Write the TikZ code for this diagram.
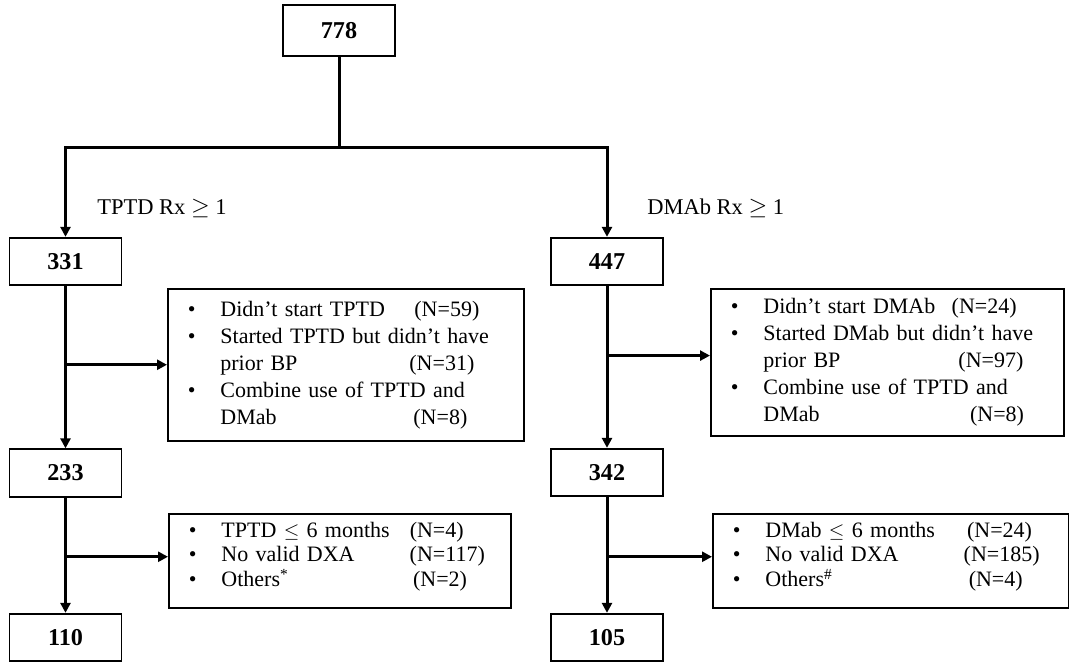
\documentclass[tikz,border=0pt]{standalone}
\usepackage{fontspec}
\setmainfont{Liberation Serif}
\usetikzlibrary{arrows.meta,positioning,calc}

\newcommand{\itm}{\makebox[19.5pt][l]{\textbullet}}
\newcommand{\cont}{\hspace*{19.5pt}}

\begin{document}
\begin{tikzpicture}[x=0.6pt, y=-0.6pt, >={Triangle[length=6pt,width=6pt]},
    numbox/.style={draw, line width=1.1pt, minimum width=67.2pt, minimum height=28.5pt,
        inner sep=0pt, font=\fontsize{14.5}{16}\selectfont\bfseries},
    exclbox/.style={draw, line width=1.1pt, anchor=north west, align=left,
        inner xsep=12pt, inner ysep=0pt, font=\fontsize{13.2}{16.2}\selectfont},
    conn/.style={line width=1.8pt},
    lbl/.style={anchor=west, inner sep=0pt, font=\fontsize{13.5}{16}\selectfont}]

    \useasboundingbox (0,0) rectangle (1069,667);

    % counts
    \node[numbox, minimum height=30.6pt] (n778) at (339,30.5) {778};
    \node[numbox] (n331) at (65.5,261.5) {331};
    \node[numbox] (n447) at (607,261.5) {447};
    \node[numbox] (n233) at (65.5,473) {233};
    \node[numbox] (n342) at (607,472.5) {342};
    \node[numbox] (n110) at (65.5,637.5) {110};
    \node[numbox] (n105) at (607,637.5) {105};

    \node[lbl] (lblTPTD) at (97,208) {TPTD Rx \ensuremath{\geq} 1};
    \node[lbl] (lblDMAb) at (647,208) {DMAb Rx \ensuremath{\geq} 1};

    % exclusions
    \node[exclbox, text width=189.6pt, minimum height=91pt] (exTPTDa) at (167,288) {%
        \itm\makebox[116.4pt][l]{Didn't start TPTD}(N=59)\\
        \itm Started TPTD but didn't have\\
        \cont\makebox[113.4pt][l]{prior BP}(N=31)\\
        \itm\makebox[172.8pt][s]{Combine use of TPTD and}\\
        \cont\makebox[115.8pt][l]{DMab}(N=8)};
    \node[exclbox, text width=187.8pt, minimum height=88pt] (exDMAba) at (710,288) {%
        \itm\makebox[113pt][l]{Didn't start DMAb}(N=24)\\
        \itm Started DMab but didn't have\\
        \cont\makebox[117pt][l]{prior BP}(N=97)\\
        \itm Combine use of TPTD and\\
        \cont\makebox[124pt][l]{DMab}(N=8)};
    \node[exclbox, text width=181.2pt, minimum height=56.4pt,
        font=\fontsize{13.2}{14.8}\selectfont] (exTPTDb) at (168,513) {%
        \itm\makebox[113pt][l]{TPTD \ensuremath{\leq} 6 months}(N=4)\\
        \itm\makebox[113pt][l]{No valid DXA}(N=117)\\
        \itm\makebox[115pt][l]{Others\textsuperscript{*}}(N=2)\rule[-8pt]{0pt}{0pt}};
    \node[exclbox, text width=189.6pt, minimum height=56.4pt,
        font=\fontsize{13.2}{14.8}\selectfont] (exDMAbb) at (712,513) {%
        \itm\makebox[121pt][l]{DMab \ensuremath{\leq} 6 months}(N=24)\\
        \itm\makebox[119pt][l]{No valid DXA}(N=185)\\
        \itm\makebox[122pt][l]{Others\textsuperscript{\#}}(N=4)\rule[-8pt]{0pt}{0pt}};

    % flow
    \draw[conn] (n778.south) -- ++(0,91) coordinate (split);
    \draw[conn,->] (split) -| (n331);
    \draw[conn,->] (split) -| (n447);
    \draw[conn,->] (n331) -- (n233);
    \draw[conn,->] (n447) -- (n342);
    \draw[conn,->] (n233) -- (n110);
    \draw[conn,->] (n342) -- (n105);

    \draw[conn,->] (n331 |- exTPTDa.west) -- (exTPTDa.west);
    \draw[conn,->] ([yshift=4pt]exDMAba.west -| n447) -- ([yshift=4pt]exDMAba.west);
    \draw[conn,->] ([yshift=2.5pt]exTPTDb.west -| n233) -- ([yshift=2.5pt]exTPTDb.west);
    \draw[conn,->] ([yshift=2.5pt]exDMAbb.west -| n342) -- ([yshift=2.5pt]exDMAbb.west);

\end{tikzpicture}
\end{document}
